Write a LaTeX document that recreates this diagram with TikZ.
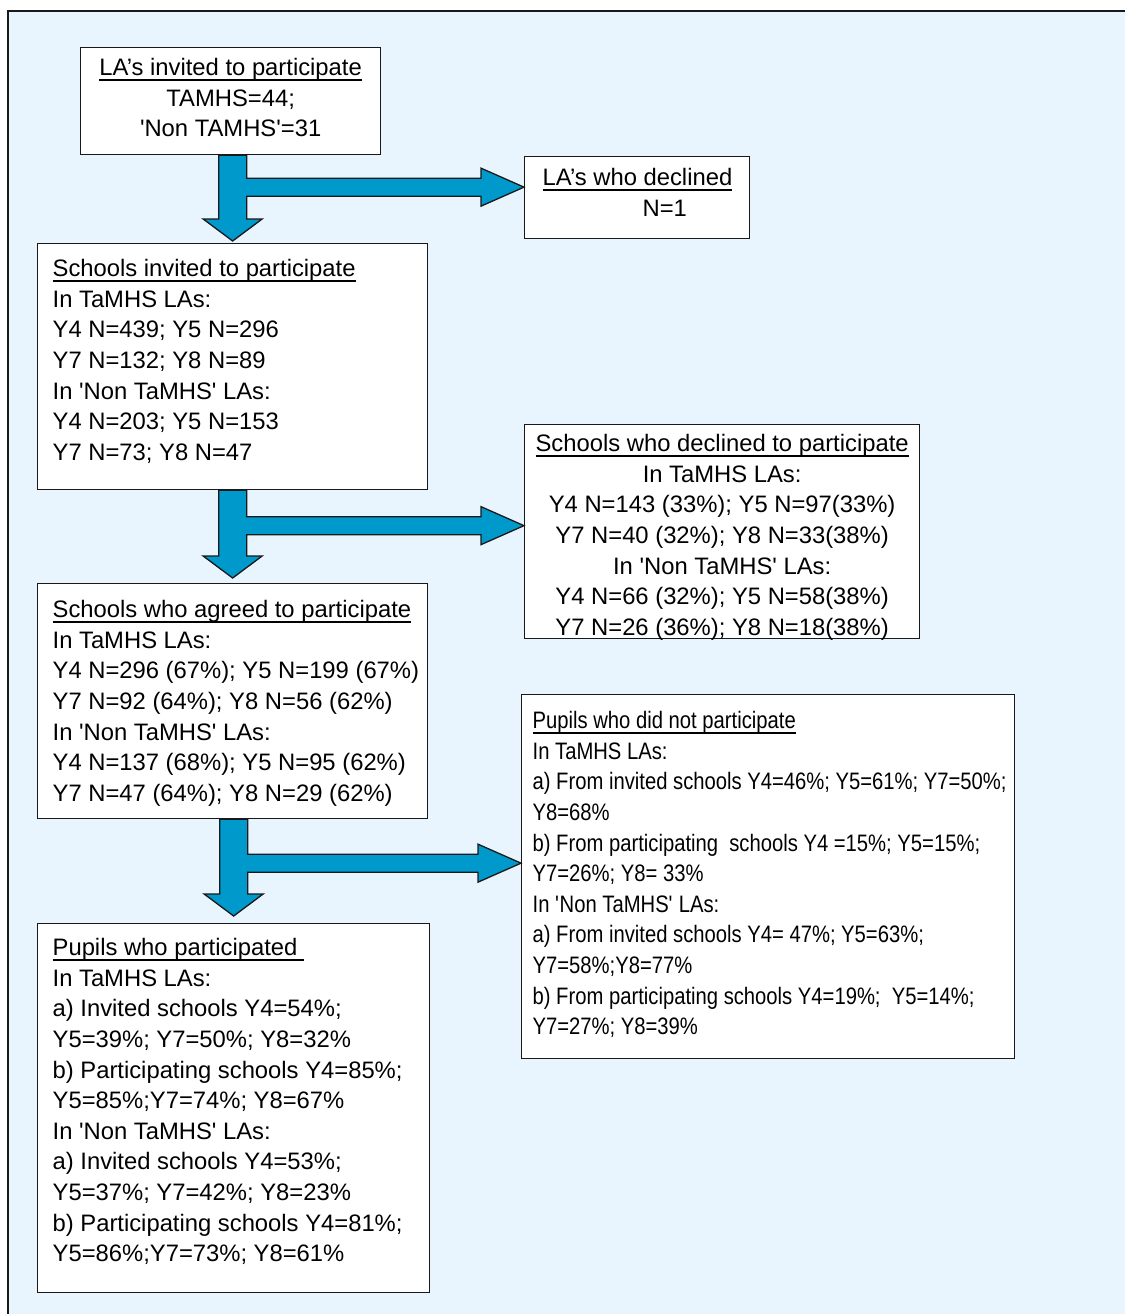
\documentclass[tikz,border=0pt]{standalone}
\usepackage{fontspec}
\setmainfont{Liberation Sans}
\newfontfamily\narrowfont[FakeStretch=0.85]{Liberation Sans}
\usetikzlibrary{calc}
\definecolor{bgblue}{RGB}{232,245,254}
\definecolor{arrblue}{RGB}{0,153,204}
\definecolor{lineblk}{RGB}{25,25,25}
\newsavebox\ulbox
\newcommand\ulx[1]{\leavevmode\sbox\ulbox{#1}\rlap{\rule[-5.5pt]{\wd\ulbox}{1.8pt}}\usebox\ulbox}
\newcommand\sq{\textquotesingle}
\newcommand\bt[4]{\begin{minipage}[t][#2][t]{#1}\fontsize{23.8}{30.6}\selectfont\vspace*{#3}#4\end{minipage}}
\newcommand\tarrow[5]{\filldraw[barrow] let \p1=(#1.south), \p2=($(#2.north)+(0,#5)$), \p3=($(#3.west)+(0,#4)$) in
  (\x2-14pt,\y1) -- (\x2+14pt,\y1) -- (\x2+14pt,\y3+9pt) -- (\x3-43pt,\y3+9pt) -- (\x3-43pt,\y3+19pt) -- (\x3,\y3)
  -- (\x3-43pt,\y3-19pt) -- (\x3-43pt,\y3-9pt) -- (\x2+14pt,\y3-9pt) -- (\x2+14pt,\y2+22pt) -- (\x2+29.5pt,\y2+22pt)
  -- (\x2,\y2) -- (\x2-29.5pt,\y2+22pt) -- (\x2-14pt,\y2+22pt) -- cycle;}
\begin{document}
\begin{tikzpicture}[x=1pt,y=-1pt,
  box/.style={draw=lineblk,line width=1.3pt,fill=white,inner sep=0pt,anchor=north west},
  barrow/.style={fill=arrblue,draw=lineblk,line width=1.3pt,line join=miter}]
\useasboundingbox (0,0) rectangle (1125,1314);
\fill[bgblue] (8,11) rectangle (1125,1314);
\draw[lineblk,line width=2pt] (8,1314) -- (8,11) -- (1125,11);

\node[box] (b1) at (80,47) {\bt{300pt}{107pt}{6.6pt}{\centering\strut\ulx{LA’s invited to participate}\\TAMHS=44;\\\sq Non TAMHS\sq=31}};

\node[box] (b2) at (524,156) {\bt{225pt}{82pt}{7.6pt}{\raggedright\leftskip=18pt\strut\ulx{LA’s who declined}\\\hspace*{100pt}N=1}};

\node[box] (b3) at (37,243) {\bt{390pt}{246pt}{11.6pt}{\raggedright\leftskip=15pt\strut\ulx{Schools invited to participate}\\In TaMHS LAs:\\Y4 N=439; Y5 N=296\\Y7 N=132; Y8 N=89\\In \sq Non TaMHS\sq{} LAs:\\Y4 N=203; Y5 N=153\\Y7 N=73; Y8 N=47}};

\node[box] (b4) at (524,424) {\bt{395pt}{214pt}{5.6pt}{\centering\strut\ulx{Schools who declined to participate}\\In TaMHS LAs:\\Y4 N=143 (33\%); Y5 N=97(33\%)\\Y7 N=40 (32\%); Y8 N=33(38\%)\\In \sq Non TaMHS\sq{} LAs:\\Y4 N=66 (32\%); Y5 N=58(38\%)\\Y7 N=26 (36\%); Y8 N=18(38\%)}};

\node[box] (b5) at (37,583) {\bt{390pt}{235pt}{12.6pt}{\raggedright\leftskip=15pt\strut\ulx{Schools who agreed to participate}\\In TaMHS LAs:\\Y4 N=296 (67\%); Y5 N=199 (67\%)\\Y7 N=92 (64\%); Y8 N=56 (62\%)\\In \sq Non TaMHS\sq{} LAs:\\Y4 N=137 (68\%); Y5 N=95 (62\%)\\Y7 N=47 (64\%); Y8 N=29 (62\%)}};

\node[box] (b6) at (37,923) {\bt{392pt}{369pt}{10.6pt}{\raggedright\leftskip=15pt\strut\ulx{Pupils who participated\ }\\In TaMHS LAs:\\a) Invited schools Y4=54\%;\\Y5=39\%; Y7=50\%; Y8=32\%\\b) Participating schools Y4=85\%;\\Y5=85\%;Y7=74\%; Y8=67\%\\In \sq Non TaMHS\sq{} LAs:\\a) Invited schools Y4=53\%;\\Y5=37\%; Y7=42\%; Y8=23\%\\b) Participating schools Y4=81\%;\\Y5=86\%;Y7=73\%; Y8=61\%}};

\node[box] (b7) at (521,694) {\bt{493pt}{364pt}{12.6pt}{\narrowfont\raggedright\leftskip=11pt\strut\ulx{Pupils who did not participate}\\In TaMHS LAs:\\a) From invited schools Y4=46\%; Y5=61\%; Y7=50\%;\\Y8=68\%\\b) From participating\ \ schools Y4 =15\%; Y5=15\%;\\Y7=26\%; Y8= 33\%\\In \sq Non TaMHS\sq{} LAs:\\a) From invited schools Y4= 47\%; Y5=63\%;\\Y7=58\%;Y8=77\%\\b) From participating schools Y4=19\%;\ \ Y5=14\%;\\Y7=27\%; Y8=39\%}};

\tarrow{b1}{b3}{b2}{10.5pt}{2pt}
\tarrow{b3}{b5}{b4}{6pt}{5pt}
\tarrow{b5}{b6}{b7}{13.5pt}{7pt}
\end{tikzpicture}
\end{document}
